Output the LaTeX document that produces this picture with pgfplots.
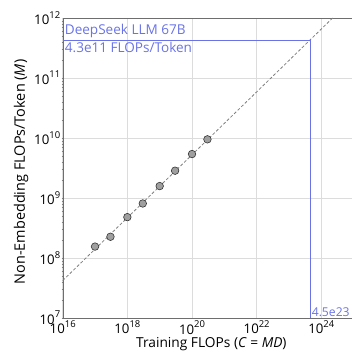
\documentclass[border=0pt]{standalone}
\usepackage{fontspec}
\setmainfont{Open Sans}
\usepackage{pgfplots}
\pgfplotsset{compat=1.18}
\definecolor{annblue}{RGB}{105,115,230}
\definecolor{gridgray}{RGB}{220,220,220}
\definecolor{framegray}{RGB}{110,110,110}
\newcommand{\tp}[1]{10\raisebox{0.5em}{\fontsize{9.5}{10}\selectfont #1}}
\begin{document}
\begin{tikzpicture}
\begin{axis}[
  scale only axis,
  width=289.3bp, height=300bp,
  xmode=log, ymode=log,
  xmin=1e16, xmax=8.9e24,
  ymin=1e7, ymax=1e12,
  axis lines=left,
  axis line style={framegray, -},
  xtick={1e16,1e18,1e20,1e22,1e24},
  xticklabels={\tp{16},\tp{18},\tp{20},\tp{22},\tp{24}},
  ytick={1e7,1e8,1e9,1e10,1e11,1e12},
  yticklabels={\tp{7},\tp{8},\tp{9},\tp{10},\tp{11},\tp{12}},
  minor xtick={},
  major tick length=0pt,
  minor tick length=2pt,
  grid=major,
  major grid style={gridgray, line width=0.6pt},
  tick label style={font=\fontsize{13.3}{15}\selectfont},
  xticklabel style={yshift=1pt},
  yticklabel style={xshift=1pt},
  xlabel={Training FLOPs (\textit{C} = \textit{MD})},
  ylabel={Non-Embedding FLOPs/Token (\textit{M})},
  xlabel style={font=\fontsize{13.8}{15}\selectfont, yshift=4pt, xshift=4pt},
  ylabel style={font=\fontsize{14.5}{16}\selectfont, yshift=-1pt, xshift=-4pt},
  clip=false,
]
\coordinate (O) at (rel axis cs:0,0);
\draw[framegray] (rel axis cs:0,1) -- (rel axis cs:1,1);
\addplot[gray, dashed, line width=0.8pt, dash pattern=on 3pt off 2pt] coordinates {(1e16,4.2e7) (2.24e24,1e12)};
\addplot[only marks, mark=*, mark size=3.8pt, mark options={fill=gray!75, draw=gray!40!black, line width=0.6pt}] coordinates {
 (1e17,1.55e8) (3e17,2.26e8) (1e18,4.8e8) (3e18,8.1e8)
 (1e19,1.58e9) (3e19,2.85e9) (1e20,5.4e9) (3e20,9.5e9)};
\addplot[annblue, line width=0.7pt] coordinates {(1e16,4.3e11) (4.5e23,4.3e11) (4.5e23,1e7)};
\node[anchor=south west, annblue, font=\fontsize{13.6}{15}\selectfont, inner sep=2pt] at (axis cs:1e16,4.3e11) {DeepSeek LLM 67B};
\node[anchor=north west, annblue, font=\fontsize{13.6}{15}\selectfont, inner sep=2pt] at (axis cs:1e16,4.3e11) {4.3e11 FLOPs/Token};
\node[anchor=south west, annblue, font=\fontsize{12.2}{14}\selectfont, inner sep=1.5pt] at (axis cs:4.5e23,1e7) {4.5e23};
\end{axis}
\pgfresetboundingbox
\path ([xshift=-62.7bp, yshift=-36bp]O) rectangle ++(352bp,354bp);
\end{tikzpicture}
\end{document}
